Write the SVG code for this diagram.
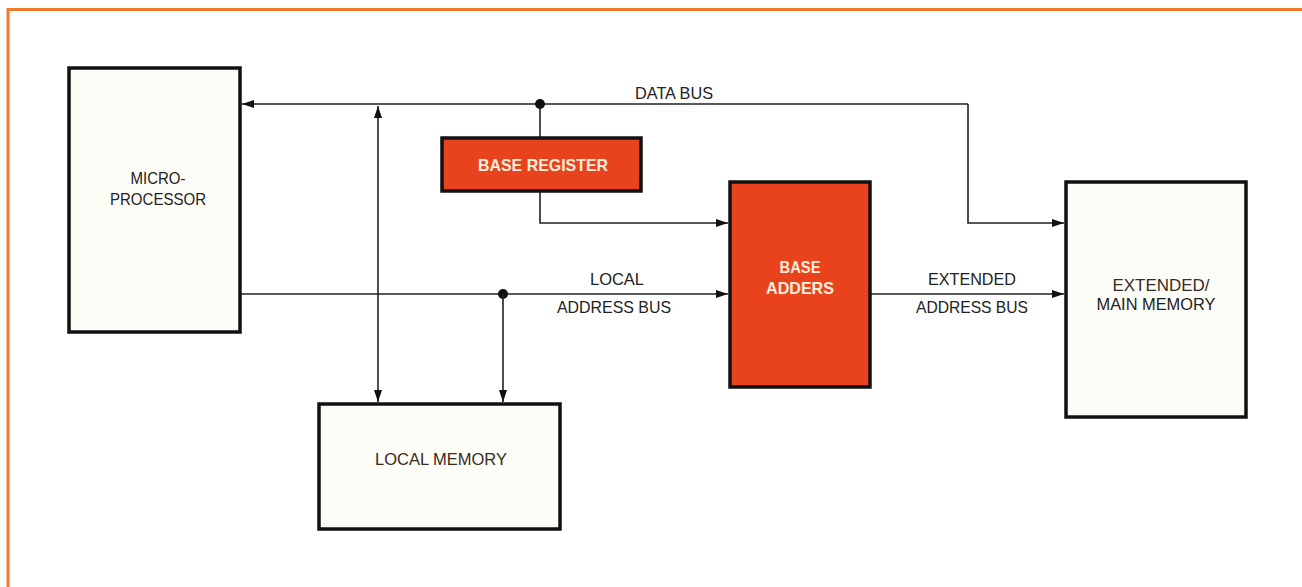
<svg xmlns="http://www.w3.org/2000/svg" width="1302" height="587" viewBox="0 0 1302 587">
<defs>
<marker id="arr" viewBox="0 0 12 8" refX="12" refY="4" markerWidth="12" markerHeight="8" markerUnits="userSpaceOnUse" orient="auto-start-reverse">
<path d="M0,0 L12,4 L0,8 Z" fill="#111"/>
</marker>
<style>
.box{fill:#fdfdf8;stroke:#111;stroke-width:3.5}
.red{fill:#e8431c;stroke:#111;stroke-width:3.5}
.ln{fill:none;stroke:#222;stroke-width:1.6}
.t{font-family:"Liberation Sans",Arial,sans-serif;font-size:17px;fill:#222;text-anchor:middle}
.w{font-family:"Liberation Sans",Arial,sans-serif;font-size:17px;font-weight:bold;fill:#fbeedd;text-anchor:middle}
</style>
</defs>
<rect width="1302" height="587" fill="#fff"/>
<path d="M8,587 L8,9.5 L1302,9.5" fill="none" stroke="#f07a2e" stroke-width="3"/>
<g id="connectors">
<path class="ln" d="M968,104 L242,104" marker-end="url(#arr)"/>
<path class="ln" d="M968,104 L968,223 L1064,223" marker-end="url(#arr)"/>
<path class="ln" d="M378,106 L378,402" marker-start="url(#arr)" marker-end="url(#arr)"/>
<path class="ln" d="M540,104 L540,137"/>
<circle cx="540" cy="104" r="5" fill="#111"/>
<path class="ln" d="M540,191 L540,223 L728,223" marker-end="url(#arr)"/>
<path class="ln" d="M241,294 L728,294" marker-end="url(#arr)"/>
<circle cx="503" cy="294" r="5" fill="#111"/>
<path class="ln" d="M503,294 L503,402" marker-end="url(#arr)"/>
<path class="ln" d="M871,294 L1064,294" marker-end="url(#arr)"/>
<text class="t" x="674" y="99" textLength="78" lengthAdjust="spacingAndGlyphs">DATA BUS</text>
<text class="t" x="617" y="285" textLength="54" lengthAdjust="spacingAndGlyphs">LOCAL</text>
<text class="t" x="614" y="313" textLength="114" lengthAdjust="spacingAndGlyphs">ADDRESS BUS</text>
<text class="t" x="972" y="285" textLength="88" lengthAdjust="spacingAndGlyphs">EXTENDED</text>
<text class="t" x="972" y="313" textLength="112" lengthAdjust="spacingAndGlyphs">ADDRESS BUS</text>
</g>
<g id="microprocessor">
<rect class="box" x="69" y="68" width="171" height="264"/>
<text class="t" x="158" y="184" textLength="55" lengthAdjust="spacingAndGlyphs">MICRO-</text>
<text class="t" x="158" y="205" textLength="96" lengthAdjust="spacingAndGlyphs">PROCESSOR</text>
</g>
<g id="base-register">
<rect class="red" x="442" y="138" width="199" height="53"/>
<text class="w" x="543" y="171" textLength="130" lengthAdjust="spacingAndGlyphs">BASE REGISTER</text>
</g>
<g id="base-adders">
<rect class="red" x="730" y="182" width="140" height="205"/>
<text class="w" x="800" y="273" textLength="41" lengthAdjust="spacingAndGlyphs">BASE</text>
<text class="w" x="800" y="294" textLength="68" lengthAdjust="spacingAndGlyphs">ADDERS</text>
</g>
<g id="local-memory">
<rect class="box" x="319" y="404" width="241" height="125"/>
<text class="t" x="441" y="465" textLength="132" lengthAdjust="spacingAndGlyphs" style="fill:#3a2a20">LOCAL MEMORY</text>
</g>
<g id="extended-memory">
<rect class="box" x="1066" y="182" width="180" height="235"/>
<text class="t" x="1161" y="291" textLength="97" lengthAdjust="spacingAndGlyphs" style="fill:#3a2a20">EXTENDED/</text>
<text class="t" x="1156" y="310" textLength="119" lengthAdjust="spacingAndGlyphs">MAIN MEMORY</text>
</g>
</svg>
